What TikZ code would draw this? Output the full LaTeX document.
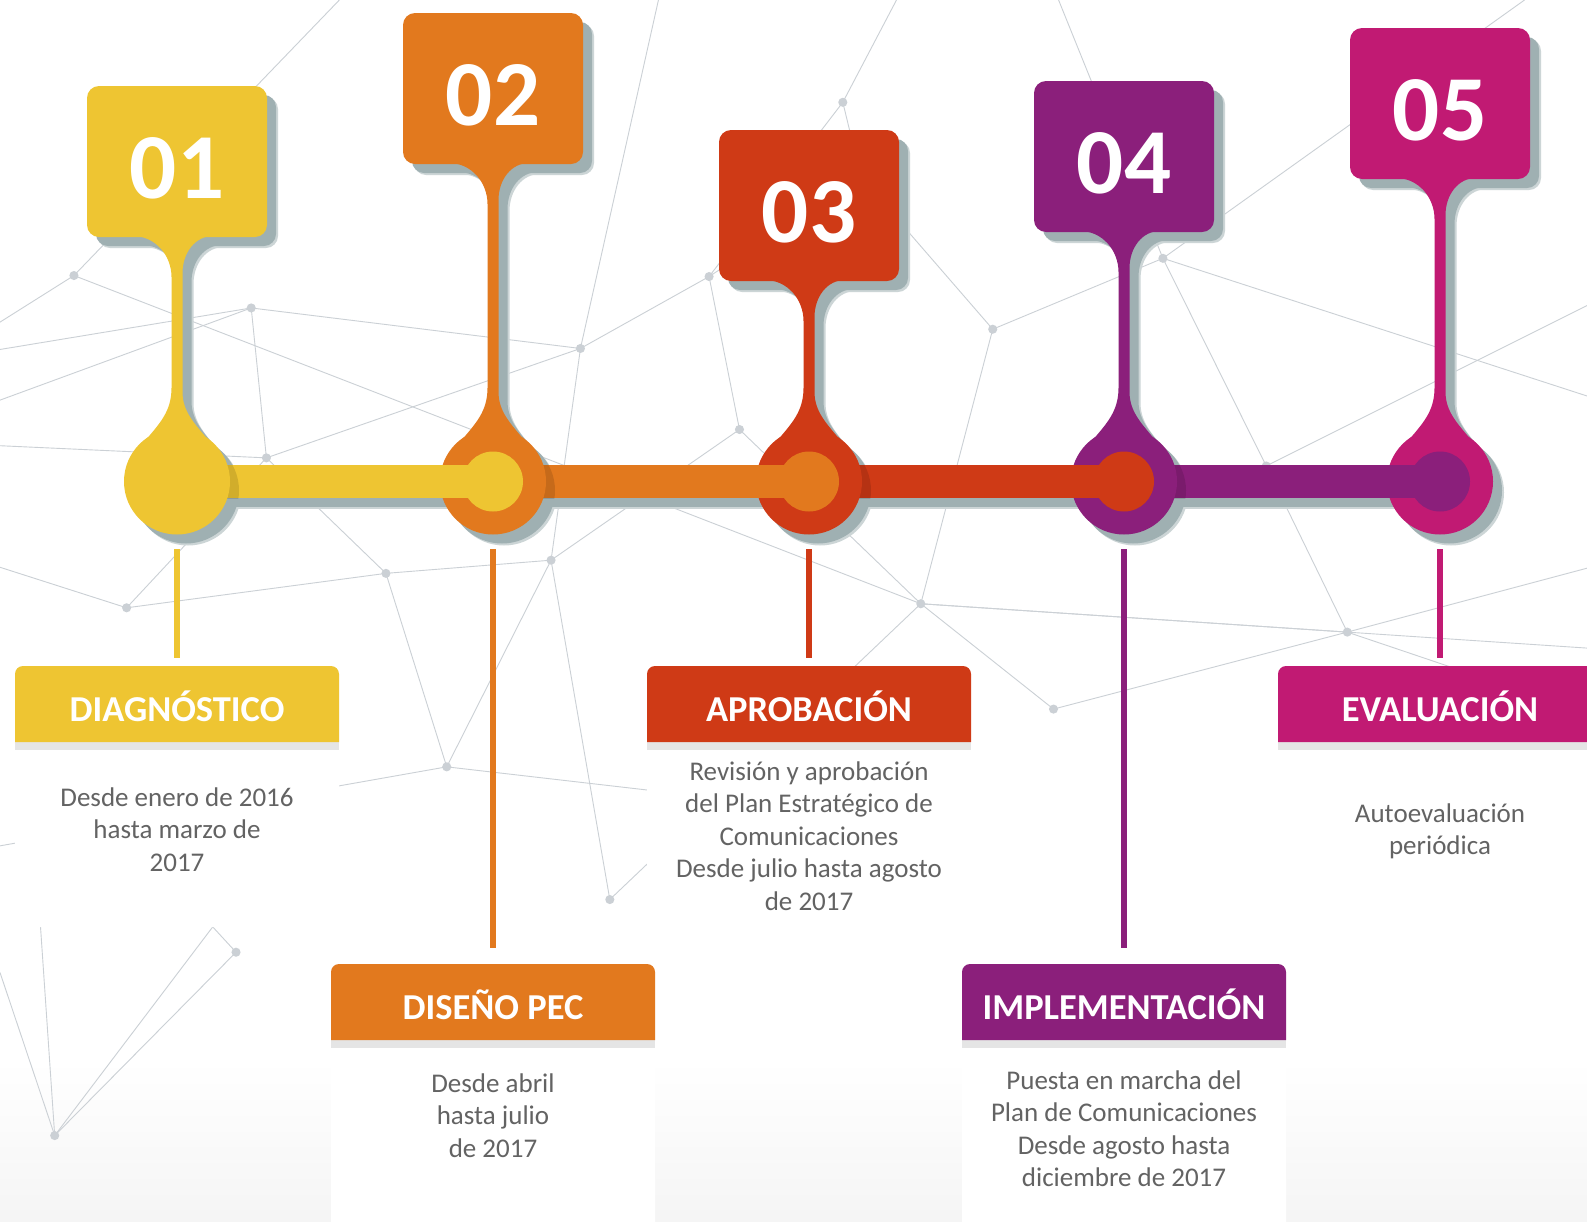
\documentclass[tikz,border=0pt]{standalone}
\usepackage{fontspec}
\setmainfont{Carlito}
\definecolor{pinyellow}{HTML}{EEC532}
\definecolor{pinorange}{HTML}{E2791E}
\definecolor{pinred}{HTML}{CF3A16}
\definecolor{pinpurple}{HTML}{8B1F7B}
\definecolor{pinmagenta}{HTML}{C11A73}
\definecolor{pinshadow}{HTML}{9FB0B2}
\definecolor{softshadow}{HTML}{CCD5D6}
\definecolor{stripgray}{HTML}{E5E5E5}
\definecolor{bodygray}{HTML}{636363}
\definecolor{netgray}{HTML}{CBD0D5}
\begin{document}
\begin{tikzpicture}[x=1pt,y=-1pt,
	netline/.style={netgray,line width=0.9pt},
	numtext/.style={text=white,font=\bfseries\fontsize{93}{93}\selectfont,anchor=base},
	headtext/.style={text=white,font=\bfseries\fontsize{36.5}{40}\selectfont,minimum width=324pt,minimum height=76pt,text height=34pt,text depth=0pt,inner sep=0pt,anchor=north},
	bodytext/.style={text=bodygray,font=\fontsize{27}{32.5}\selectfont,align=center,anchor=north,inner sep=0pt},
	link/.style={line width=6pt,shorten <=14.5pt}]
	\useasboundingbox (0,0) rectangle (1587,1221);
	\fill[white] (0,0) rectangle (1587,1221);
	\fill[top color=white,bottom color=black!4] (0,1060) rectangle (1587,1221);
	% Network
	\begin{scope}[scale=1.0128]
		\coordinate (n1) at (73,272);   \coordinate (n2) at (248,304);
		\coordinate (n3) at (263,452);  \coordinate (n4) at (573,344);
		\coordinate (n5) at (700,273);  \coordinate (n6) at (730,424);
		\coordinate (n7) at (832,101);  \coordinate (n8) at (909,596);
		\coordinate (n9) at (1148,255); \coordinate (n10) at (1330,624);
		\coordinate (n11) at (441,757); \coordinate (n12) at (602,888);
		\coordinate (n13) at (233,940); \coordinate (n14) at (54,1121);
		\coordinate (n15) at (381,566); \coordinate (n16) at (544,553);
		\coordinate (n17) at (980,325); \coordinate (n18) at (1250,460);
		\coordinate (n19) at (850,175); \coordinate (n20) at (1040,700);
		\coordinate (n21) at (125,600);
		\coordinate (e1) at (0,318);    \coordinate (e2) at (335,0);
		\coordinate (e3) at (0,345);    \coordinate (e4) at (0,395);
		\coordinate (e5) at (0,440);    \coordinate (e6) at (1570,640);
		\coordinate (e7) at (1570,392); \coordinate (e8) at (1505,0);
		\coordinate (e9) at (1570,560); \coordinate (e10) at (1570,705);
		\coordinate (e11) at (0,835);   \coordinate (e12) at (0,960);
		\coordinate (e13) at (885,0);   \coordinate (e14) at (1045,0);
		\coordinate (e15) at (1570,300);\coordinate (e16) at (0,560);
		\coordinate (e17) at (40,915);  \coordinate (e18) at (210,915);
		\coordinate (e19) at (640,780); \coordinate (e20) at (650,0);
		\foreach \a/\b in {e2/n1,n1/e1,n1/n8,e3/n2,n2/n4,e4/n2,n2/n3,e5/n3,n3/n4,n3/n15,
			n4/n5,n4/n16,n5/n6,n5/n7,n6/n8,n6/n16,n7/e13,n7/n19,n19/n5,n19/n17,n17/n8,
			n17/n9,n9/e7,n9/e8,n9/n18,n18/n10,n8/e6,n8/n10,n10/e9,n10/e10,n8/n12,n11/e11,
			n11/n15,n11/n16,n12/n16,n15/n16,n13/n14,n14/e12,n14/e17,n14/e18,n13/e18,
			n18/e15,n9/e14,n20/n8,n20/n10,n21/n3,n21/e16,n11/e19,n15/n21,e20/n4}
			\draw[netline] (\a) -- (\b);
		\foreach \n in {1,...,21}
			\fill[netgray] (n\n) circle[radius=4.5];
	\end{scope}
	% Labels
	\foreach \i/\x/\t/\lbot/\ttl/\col/\txt/\by in {
		1/177/666/927/DIAGNÓSTICO/pinyellow/{Desde enero de 2016\\hasta marzo de\\2017}/806,
		2/493/964/1235/DISEÑO PEC/pinorange/{Desde abril\\hasta julio\\de 2017}/1092,
		3/809/666/927/APROBACIÓN/pinred/{Revisión y aprobación\\del Plan Estratégico de\\Comunicaciones\\Desde julio hasta agosto\\de 2017}/780,
		4/1124/964/1235/IMPLEMENTACIÓN/pinpurple/{Puesta en marcha del\\Plan de Comunicaciones\\Desde agosto hasta\\diciembre de 2017}/1089,
		5/1440/666/927/EVALUACIÓN/pinmagenta/{Autoevaluación\\periódica}/822} {
		\fill[white,rounded corners=8pt] (\x-162,\t+84) -- (\x-162,\lbot) -- (\x+162,\lbot) -- (\x+162,\t+84);
		\fill[stripgray] (\x-162,\t+76) rectangle (\x+162,\t+84);
		\fill[\col,rounded corners=8pt] (\x-162,\t+76) -- (\x-162,\t) -- (\x+162,\t) -- (\x+162,\t+76);
		\node[headtext] (h\i) at (\x,\t) {\ttl};
		\node[bodytext] (b\i) at (\x,\by-22) {\rule{0pt}{22pt}\txt};
	}
	% Shadows
	\foreach \d/\sc in {11/softshadow,9/pinshadow} {
		\begin{scope}[shift={(\d,\d)}]
			\fill[\sc] (177,465) rectangle (1440,498);
			\foreach \x/\t in {177/86,493/13,809/130,1124/81,1440/28} {
				\fill[\sc,rounded corners=12pt] (\x-90,\t) rectangle (\x+90,\t+151);
				\fill[\sc] (\x-44,\t+150) .. controls (\x-22,\t+150) and (\x-5.5,\t+169) .. (\x-5.5,\t+191)
					-- (\x-5.5,388) .. controls (\x-5.5,412) and (\x-18,424) .. (\x-32,441)
					-- (\x+32,441) .. controls (\x+18,424) and (\x+5.5,412) .. (\x+5.5,392)
					-- (\x+5.5,\t+187) .. controls (\x+5.5,\t+167) and (\x+18,\t+150) .. (\x+36,\t+150) -- cycle;
				\fill[\sc] (\x,481.5) circle[radius=53];
			}
		\end{scope}
	}
	% Pins and bar
	\foreach \i/\x/\t/\col/\nx in {5/1440/28/pinmagenta/0,4/1124/81/pinpurple/1440,
		3/809/130/pinred/1124,2/493/13/pinorange/809,1/177/86/pinyellow/493} {
		\ifnum\i<5
			\fill[\col] (\x,465) rectangle (\nx,498);
			\begin{scope}
				\clip (\x,465) rectangle (\nx,498);
				\fill[black,opacity=.12] (\x+9,490.5) circle[radius=53];
			\end{scope}
		\fi
		\fill[\col,rounded corners=12pt] (\x-90,\t) rectangle (\x+90,\t+151);
		\fill[\col] (\x-44,\t+150) .. controls (\x-22,\t+150) and (\x-5.5,\t+169) .. (\x-5.5,\t+191)
			-- (\x-5.5,388) .. controls (\x-5.5,412) and (\x-18,424) .. (\x-32,441)
			-- (\x+32,441) .. controls (\x+18,424) and (\x+5.5,412) .. (\x+5.5,392)
			-- (\x+5.5,\t+187) .. controls (\x+5.5,\t+167) and (\x+18,\t+150) .. (\x+36,\t+150) -- cycle;
		\node[circle,fill=\col,minimum size=106pt,inner sep=0pt] (c\i) at (\x,481.5) {};
		\node[numtext] (num\i) at (\x,\t+112) {0\i};
	}
	\foreach \x/\col in {493/pinyellow,809/pinorange,1124/pinred,1440/pinpurple}
		\fill[\col] (\x,481.5) circle[radius=30];
	% Links
	\foreach \i/\col/\gap in {1/pinyellow/8pt,2/pinorange/16pt,3/pinred/8pt,4/pinpurple/16pt,5/pinmagenta/8pt}
		\draw[link,\col,shorten >=\gap] (c\i) -- (h\i);
\end{tikzpicture}
\end{document}
